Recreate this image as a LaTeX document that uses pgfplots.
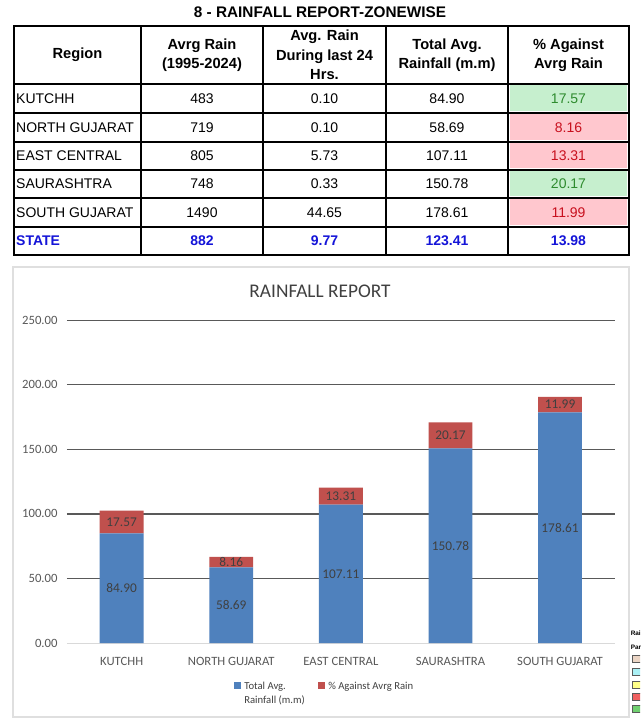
\documentclass[border=0pt]{standalone}
\usepackage{pgfplots}
\pgfplotsset{compat=1.18}
\usepackage{fontspec}
\setmainfont{Liberation Sans}
\newfontfamily\carlito{Carlito}
\definecolor{barblue}{HTML}{4F81BD}
\definecolor{barred}{HTML}{C0504D}
\definecolor{goodfill}{HTML}{C6EFCE}
\definecolor{goodtext}{HTML}{2E8B2E}
\definecolor{badfill}{HTML}{FFC7CE}
\definecolor{badtext}{HTML}{C8101E}
\definecolor{stateblue}{HTML}{1414D8}
\definecolor{gridc}{HTML}{595959}
\definecolor{lab}{HTML}{404040}
\definecolor{tickc}{HTML}{595959}
\begin{document}
\begin{tikzpicture}[x=0.75pt,y=0.75pt]
\useasboundingbox (0,0) rectangle (640,720);
\fill[white] (0,0) rectangle (640,720);
% ---------- title ----------
\node[font=\fontsize{11.5}{13}\selectfont\bfseries] at (320,708) {8 - RAINFALL REPORT-ZONEWISE};
% ---------- table ----------
\fill[goodfill] (510,608.5) rectangle (627,634.5);
\fill[badfill]  (510,579.5) rectangle (627,605.5);
\fill[badfill]  (510,551.5) rectangle (627,576.5);
\fill[goodfill] (510,523.5) rectangle (627,548.5);
\fill[badfill]  (510,494.5) rectangle (627,520.5);
\foreach \yy in {636,607,578,550,522,493} \draw[line width=0.9pt] (14,\yy) -- (629,\yy);
\foreach \xx in {141,263,386,508} \draw[line width=0.9pt] (\xx,465) -- (\xx,694);
\draw[line width=1.8pt] (14,465) rectangle (629,694);
\begin{scope}[every node/.style={font=\fontsize{11}{14.6}\selectfont\bfseries, align=center}]
\node at (77.5,665) {Region};
\node at (202,665) {Avrg Rain\\(1995-2024)};
\node at (324.5,665) {Avg. Rain\\During last 24\\Hrs.};
\node at (447,665) {Total Avg.\\Rainfall (m.m)};
\node at (568.5,665) {\% Against\\Avrg Rain};
\end{scope}
\begin{scope}[every node/.style={font=\fontsize{10.5}{12}\selectfont}]
\node[anchor=west] at (11.5,621.5) {KUTCHH};
\node at (202,621.5) {483};
\node at (324.5,621.5) {0.10};
\node at (447,621.5) {84.90};
\node[text=goodtext] at (568.5,621.5) {17.57};
\node[anchor=west] at (11.5,592.5) {NORTH GUJARAT};
\node at (202,592.5) {719};
\node at (324.5,592.5) {0.10};
\node at (447,592.5) {58.69};
\node[text=badtext] at (568.5,592.5) {8.16};
\node[anchor=west] at (11.5,564) {EAST CENTRAL};
\node at (202,564) {805};
\node at (324.5,564) {5.73};
\node at (447,564) {107.11};
\node[text=badtext] at (568.5,564) {13.31};
\node[anchor=west] at (11.5,536) {SAURASHTRA};
\node at (202,536) {748};
\node at (324.5,536) {0.33};
\node at (447,536) {150.78};
\node[text=goodtext] at (568.5,536) {20.17};
\node[anchor=west] at (11.5,507.5) {SOUTH GUJARAT};
\node at (202,507.5) {1490};
\node at (324.5,507.5) {44.65};
\node at (447,507.5) {178.61};
\node[text=badtext] at (568.5,507.5) {11.99};
\end{scope}
\begin{scope}[every node/.style={font=\fontsize{10.5}{12}\selectfont\bfseries, text=stateblue}]
\node[anchor=west] at (11.5,479) {STATE};
\node at (202,479) {882};
\node at (324.5,479) {9.77};
\node at (447,479) {123.41};
\node at (568.5,479) {13.98};
\end{scope}
% ---------- chart frame ----------
\draw[gray!25, line width=0.8pt] (13,3) rectangle (629,453);
\node[font=\carlito\fontsize{14.5}{16}\selectfont, text=lab] at (320,429) {RAINFALL REPORT};
\begin{axis}[
  at={(61,59.5)}, anchor=south west,
  scale only axis, width=411pt, height=242.25pt,
  xmin=-0.5, xmax=4.5, ymin=0, ymax=250,
  ybar stacked, bar width=0.4,
  axis line style={draw=none},
  major tick length=0pt,
  ytick={50,100,...,250},
  extra y ticks={0},
  extra y tick style={grid style={draw=gray!30, line width=0.8pt}},
  ymajorgrids,
  grid style={draw=gridc, line width=0.9pt},
  xtick={0,1,2,3,4},
  xticklabels={KUTCHH, NORTH GUJARAT, EAST CENTRAL, SAURASHTRA, SOUTH GUJARAT},
  xticklabel style={font=\carlito\fontsize{9.5}{11}\selectfont, text=tickc, yshift=-7pt},
  yticklabel style={font=\carlito\fontsize{9.5}{11}\selectfont, text=tickc, xshift=-3.5pt,
    /pgf/number format/fixed, /pgf/number format/fixed zerofill,
    /pgf/number format/precision=2, /pgf/number format/assume math mode=true},
]
\addplot[fill=barblue, draw=none] coordinates {(0,84.90) (1,58.69) (2,107.11) (3,150.78) (4,178.61)};
\addplot[fill=barred, draw=none] coordinates {(0,17.57) (1,8.16) (2,13.31) (3,20.17) (4,11.99)};
\coordinate (b0) at (axis cs:0,42.45);
\coordinate (b1) at (axis cs:1,29.35);
\coordinate (b2) at (axis cs:2,53.56);
\coordinate (b3) at (axis cs:3,75.39);
\coordinate (b4) at (axis cs:4,89.31);
\coordinate (r0) at (axis cs:0,93.69);
\coordinate (r1) at (axis cs:1,62.77);
\coordinate (r2) at (axis cs:2,113.77);
\coordinate (r3) at (axis cs:3,160.87);
\coordinate (r4) at (axis cs:4,184.61);
\end{axis}
\begin{scope}[every node/.style={font=\carlito\fontsize{10}{11}\selectfont, text=lab}]
\node at (b0) {84.90};
\node at (b1) {58.69};
\node at (b2) {107.11};
\node at (b3) {150.78};
\node at (b4) {178.61};
\node at (r0) {17.57};
\node at (r1) {8.16};
\node at (r2) {13.31};
\node at (r3) {20.17};
\node at (r4) {11.99};
\end{scope}
% ---------- legend ----------
\fill[barblue] (234,30.5) rectangle +(7,7);
\node[anchor=north west, align=left, inner sep=0pt, font=\carlito\fontsize{8}{10.5}\selectfont, text=lab] at (244,38.5) {Total Avg.\\Rainfall (m.m)};
\fill[barred] (318,30.5) rectangle +(7,7);
\node[anchor=north west, align=left, inner sep=0pt, font=\carlito\fontsize{8}{10.5}\selectfont, text=lab] at (328,38.5) {\% Against Avrg Rain};
% ---------- cut-off legend at right edge ----------
\begin{scope}
\clip (0,0) rectangle (640,720);
\node[anchor=west, inner sep=0pt, font=\fontsize{4.8}{5}\selectfont\bfseries] at (630.5,87) {Rai};
\node[anchor=west, inner sep=0pt, font=\fontsize{4.8}{5}\selectfont\bfseries] at (630.5,73) {Par};
\filldraw[fill={rgb,255:red,235;green,213;blue,197}, draw=gray!70!black, line width=0.4pt] (632,57.5) rectangle (648,64.5);
\filldraw[fill={rgb,255:red,170;green,240;blue,245}, draw=gray!70!black, line width=0.4pt] (632,44.5) rectangle (648,51.5);
\filldraw[fill={rgb,255:red,255;green,255;blue,136}, draw=gray!70!black, line width=0.4pt] (632,31.5) rectangle (648,38.5);
\filldraw[fill={rgb,255:red,240;green,96;blue,96}, draw=gray!70!black, line width=0.4pt] (632,19.5) rectangle (648,26.5);
\filldraw[fill={rgb,255:red,112;green,208;blue,112}, draw=gray!70!black, line width=0.4pt] (632,7.5) rectangle (648,14.5);
\end{scope}
\end{tikzpicture}
\end{document}
